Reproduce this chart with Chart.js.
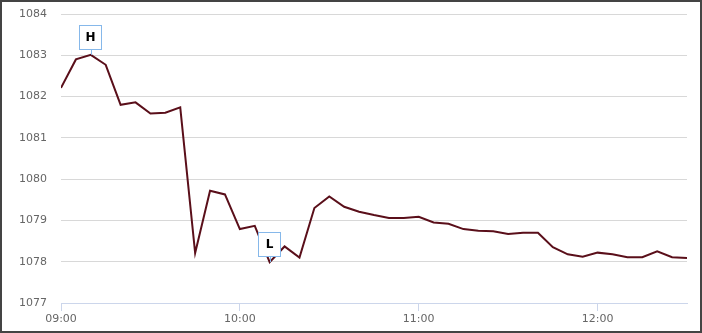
<!DOCTYPE html>
<html>
<head>
<meta charset="utf-8">
<script src="https://cdn.jsdelivr.net/npm/chart.js@4"></script>
<style>
    html, body { margin: 0; padding: 0; background: #fff; }
    #wrap {
        width: 702px;
        height: 333px;
        box-sizing: border-box;
        border: 2px solid #444;
        background: #fff;
    }
    canvas { display: block; }
</style>
</head>
<body>
<div id="wrap"><canvas id="priceChart" width="698" height="329"></canvas></div>
<script>
// 5-minute quotes, 09:00 - 12:30
const times = [
    '09:00', '09:05', '09:10', '09:15', '09:20', '09:25', '09:30', '09:35', '09:40', '09:45',
    '09:50', '09:55', '10:00', '10:05', '10:10', '10:15', '10:20', '10:25', '10:30', '10:35',
    '10:40', '10:45', '10:50', '10:55', '11:00', '11:05', '11:10', '11:15', '11:20', '11:25',
    '11:30', '11:35', '11:40', '11:45', '11:50', '11:55', '12:00', '12:05', '12:10', '12:15',
    '12:20', '12:25', '12:30'
];
const prices = [
    1082.21, 1082.90, 1083.01, 1082.77, 1081.80, 1081.86, 1081.59, 1081.61, 1081.74, 1078.21,
    1079.72, 1079.63, 1078.79, 1078.87, 1077.99, 1078.37, 1078.10, 1079.30, 1079.58, 1079.33,
    1079.21, 1079.13, 1079.06, 1079.06, 1079.09, 1078.95, 1078.92, 1078.79, 1078.75, 1078.74,
    1078.67, 1078.70, 1078.70, 1078.35, 1078.18, 1078.12, 1078.22, 1078.18, 1078.11, 1078.11,
    1078.25, 1078.11, 1078.09
];
const yTicks = [1077, 1078, 1079, 1080, 1081, 1082, 1083, 1084];
const xTickLabels = ['09:00', '10:00', '11:00', '12:00'];

function toMinutes(t) {
    const parts = t.split(':');
    return (parseInt(parts[0], 10) - 9) * 60 + parseInt(parts[1], 10);
}

function minutesToLabel(m) {
    const h = 9 + Math.floor(m / 60);
    const mm = m % 60;
    return (h < 10 ? '0' : '') + h + ':' + (mm < 10 ? '0' : '') + mm;
}

const points = times.map((t, i) => ({ x: toMinutes(t), y: prices[i] }));

// draws the H / L flags above the highest and lowest points
const highLowPlugin = {
    id: 'highLow',
    afterDatasetsDraw(chart) {
        const ctx = chart.ctx;
        const xs = chart.scales.x;
        const ys = chart.scales.y;
        let hi = 0, lo = 0;
        prices.forEach((p, i) => {
            if (p > prices[hi]) hi = i;
            if (p < prices[lo]) lo = i;
        });
        [[hi, 'H'], [lo, 'L']].forEach(([idx, txt]) => {
            const px = Math.round(xs.getPixelForValue(points[idx].x));
            const py = ys.getPixelForValue(points[idx].y);
            const w = 22, h = 24;
            const bottom = Math.round(py - 6);
            const left = px - w / 2 - 1;
            ctx.save();
            ctx.strokeStyle = '#86b8ea';
            ctx.lineWidth = 1;
            ctx.beginPath();
            ctx.moveTo(px + 0.5, bottom);
            ctx.lineTo(px + 0.5, py);
            ctx.stroke();
            ctx.fillStyle = '#fff';
            ctx.fillRect(left + 0.5, bottom - h + 0.5, w, h);
            ctx.strokeRect(left + 0.5, bottom - h + 0.5, w, h);
            ctx.fillStyle = '#000';
            ctx.font = 'bold 12px "DejaVu Sans"';
            ctx.textAlign = 'center';
            ctx.textBaseline = 'middle';
            ctx.fillText(txt, left + w / 2 + 0.5, bottom - h / 2 + 0.5);
            ctx.restore();
        });
    }
};

function initializePriceChart() {
    const ctx = document.getElementById('priceChart').getContext('2d');
    new Chart(ctx, {
        type: 'line',
        data: {
            datasets: [{
                data: points,
                borderColor: '#5a0f1a',
                borderWidth: 2,
                pointRadius: 0,
                tension: 0,
                fill: false
            }]
        },
        options: {
            responsive: false,
            animation: false,
            layout: {
                padding: { top: 12, right: 13, bottom: 0, left: 0 }
            },
            plugins: {
                legend: { display: false },
                tooltip: { enabled: false }
            },
            scales: {
                x: {
                    type: 'linear',
                    min: 0,
                    max: toMinutes(times[times.length - 1]),
                    afterBuildTicks: function(scale) {
                        scale.ticks = xTickLabels.map(l => ({ value: toMinutes(l) }));
                    },
                    afterFit: function(scale) {
                        scale.height = 28;
                        scale.paddingLeft = 0;
                        scale.paddingRight = 0;
                    },
                    ticks: {
                        color: '#666',
                        font: { family: 'DejaVu Sans', size: 11 },
                        padding: 2,
                        maxRotation: 0,
                        callback: function(value) {
                            return minutesToLabel(value);
                        }
                    },
                    grid: {
                        drawOnChartArea: false,
                        drawTicks: true,
                        tickLength: 8,
                        color: '#ccd6eb'
                    },
                    border: { display: true, color: '#ccd6eb', width: 1 }
                },
                y: {
                    min: yTicks[0],
                    max: yTicks[yTicks.length - 1],
                    afterBuildTicks: function(scale) {
                        scale.ticks = yTicks.map(v => ({ value: v }));
                    },
                    afterFit: function(scale) {
                        scale.width = 59;
                        scale.paddingTop = 0;
                        scale.paddingBottom = 0;
                    },
                    ticks: {
                        color: '#666',
                        font: { family: 'DejaVu Sans', size: 11 },
                        padding: 14,
                        callback: function(value) {
                            return String(value);
                        }
                    },
                    grid: {
                        color: '#d8d8d8',
                        drawTicks: false
                    },
                    border: { display: false }
                }
            }
        },
        plugins: [highLowPlugin]
    });
}

initializePriceChart();
</script>
</body>
</html>
